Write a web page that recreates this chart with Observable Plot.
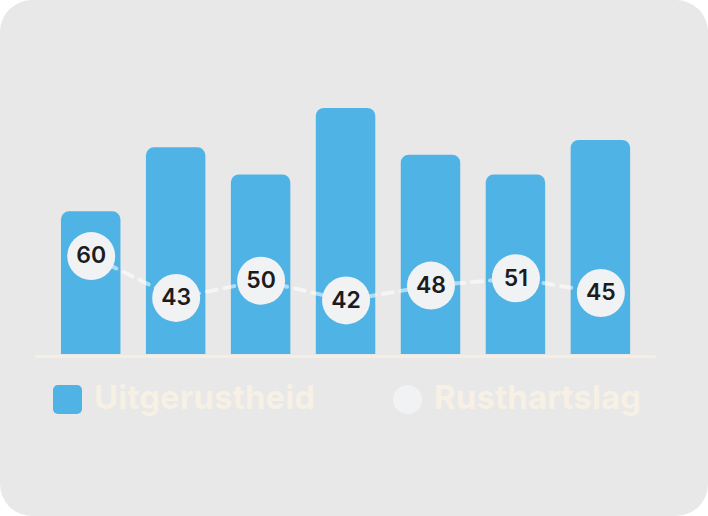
<!DOCTYPE html>
<html>
<head>
<meta charset="utf-8">
<script src="https://cdn.jsdelivr.net/npm/d3@7"></script>
<script src="https://cdn.jsdelivr.net/npm/@observablehq/plot@0.6"></script>
<style>
  html, body { margin: 0; padding: 0; background: #ffffff; }
  #card {
    position: relative; width: 708px; height: 516px;
    background: #e8e8e8; border-radius: 32px; overflow: hidden;
    font-family: Inter, "Noto Sans", "DejaVu Sans", sans-serif;
  }
  #chart svg { display: block; }
  .sw { position: absolute; }
  .lbl {
    position: absolute; font-size: 33px; line-height: 33px; font-weight: 700;
    color: #f7f0e5; white-space: nowrap; letter-spacing: 0.1px;
  }
</style>
</head>
<body>
<div id="card">
  <div id="chart"></div>
  <div class="sw" style="left:53px;top:385px;width:29px;height:29px;border-radius:5px;background:#4fb3e6;"></div>
  <div class="lbl" style="left:94px;top:381px;">Uitgerustheid</div>
  <div class="sw" style="left:393px;top:385px;width:29px;height:29px;border-radius:50%;background:#f1f2f4;"></div>
  <div class="lbl" style="left:434px;top:381px;">Rusthartslag</div>
</div>
<script>
// categories (not displayed)
const days = ["Ma", "Di", "Wo", "Do", "Vr", "Za", "Zo"];
// bar series: Uitgerustheid (0–100)
const fitness = [58, 84, 73, 100, 81, 73, 87];
// point series: Rusthartslag (bpm)
const heartRate = [60, 43, 50, 42, 48, 51, 45];

const data = days.map((d, i) => ({day: d, fit: fitness[i], hr: heartRate[i]}));
// secondary axis: heart rate 20–120 mapped onto the 0–100 bar axis
const hrScale = d3.scaleLinear([20, 120], [0, 100]);

const blue = "#4fb3e6";

const chart = Plot.plot({
  width: 708,
  height: 370,
  marginTop: 108,
  marginBottom: 16,
  marginLeft: 35.5,
  marginRight: 52.4,
  x: {domain: days, padding: 0.3, round: false, axis: null},
  y: {domain: [0, 100], axis: null},
  style: {background: "transparent", fontFamily: "Inter, 'Noto Sans', sans-serif"},
  marks: [
    // rounded bars extended a little below the baseline, clipped to the frame
    // so that only the top corners stay rounded
    Plot.barY(data, {x: "day", y1: () => -6, y2: "fit", fill: blue, rx: 8, clip: true}),
    Plot.ruleY([0], {stroke: "#f5eee3", strokeWidth: 3, dy: 2}),
    Plot.line(data, {
      x: "day", y: d => hrScale(d.hr),
      stroke: "#ffffff", strokeOpacity: 0.55, strokeWidth: 4,
      strokeDasharray: "10 8", strokeLinecap: "round"
    }),
    Plot.dot(data, {x: "day", y: d => hrScale(d.hr), r: 24, fill: "#f1f2f4", stroke: null}),
    Plot.text(data, {
      x: "day", y: d => hrScale(d.hr), text: d => String(d.hr),
      fontSize: 23, fontWeight: 600, fill: "#1c1c1c"
    })
  ]
});
document.getElementById("chart").appendChild(chart);
</script>
</body>
</html>
